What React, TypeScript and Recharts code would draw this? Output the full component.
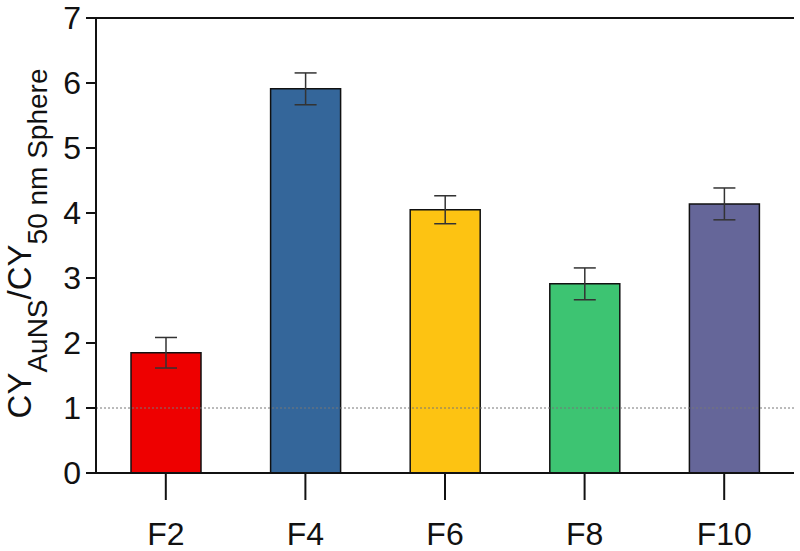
import { BarChart, Bar, XAxis, YAxis, Cell, ErrorBar, ReferenceLine } from 'recharts';

const categories = ['F2', 'F4', 'F6', 'F8', 'F10'];
const ratios = [1.85, 5.91, 4.05, 2.91, 4.14];
const errors = [0.235, 0.245, 0.215, 0.245, 0.245];
const barColors = ['#ee0000', '#34669a', '#fdc312', '#3dc472', '#656699'];
const yTicks = [0, 1, 2, 3, 4, 5, 6, 7];

const data = categories.map((name, i) => ({ name, value: ratios[i], err: errors[i] }));

const font = '"Liberation Sans", Arial, sans-serif';

// rotated y label with subscripts
const YLabel = (props: any) => {
  const vb = props.viewBox || { x: 0, y: 18, width: 96, height: 455 };
  const cx = vb.x + 31;
  const cy = vb.y + vb.height / 2 - 2;
  return (
    <text
      x={cx}
      y={cy}
      transform={`rotate(-90, ${cx}, ${cy})`}
      textAnchor="middle"
      fill="#111"
      fontFamily={font}
    >
      <tspan fontSize={33}>CY</tspan>
      <tspan fontSize={28} dy={16}>AuNS</tspan>
      <tspan fontSize={33} dy={-16}>/CY</tspan>
      <tspan fontSize={28} dy={16}>50 nm Sphere</tspan>
    </text>
  );
};

export default function App() {
  return (
    <div style={{ position: 'absolute', left: 0, top: 0, width: 800, height: 551, background: '#fff' }}>
      <BarChart
        width={800}
        height={551}
        data={data}
        margin={{ top: 18, right: 6, bottom: 0, left: 0 }}
        barSize={70}
      >
        <ReferenceLine y={1} stroke="#777" strokeDasharray="2 2" strokeWidth={1} />
        <XAxis
          dataKey="name"
          height={78}
          tickSize={27}
          tickMargin={22}
          axisLine={{ stroke: '#111', strokeWidth: 2 }}
          tickLine={{ stroke: '#111', strokeWidth: 2 }}
          tick={{ fill: '#111', fontSize: 32, fontFamily: font }}
        />
        <YAxis
          width={96}
          domain={[0, 7]}
          ticks={yTicks}
          interval={0}
          tickSize={10}
          tickMargin={5}
          axisLine={{ stroke: '#111', strokeWidth: 2 }}
          tickLine={{ stroke: '#111', strokeWidth: 2 }}
          tick={{ fill: '#111', fontSize: 32, fontFamily: font }}
          label={<YLabel />}
        />
        <YAxis
          yAxisId="right"
          orientation="right"
          width={0}
          domain={[0, 7]}
          tick={false}
          tickLine={false}
          axisLine={{ stroke: '#111', strokeWidth: 2 }}
        />
        <ReferenceLine y={7} stroke="#111" strokeWidth={2} />
        <Bar dataKey="value" stroke="#111" strokeWidth={1.5} isAnimationActive={false}>
          {data.map((d, i) => (
            <Cell key={d.name} fill={barColors[i]} />
          ))}
          <ErrorBar dataKey="err" width={11} stroke="#333" strokeWidth={1.5} />
        </Bar>
      </BarChart>
    </div>
  );
}
